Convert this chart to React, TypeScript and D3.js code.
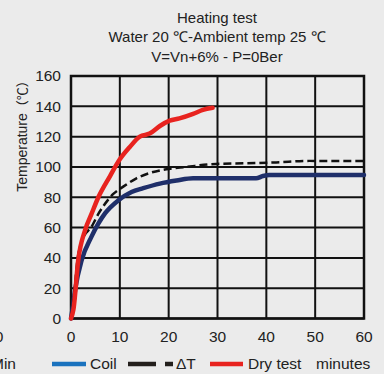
import React from "react";
import * as d3 from "d3";

const title = ["Heating test", "Water 20 ℃-Ambient temp 25 ℃", "V=Vn+6% - P=0Ber"];
const yTicks = [0, 20, 40, 60, 80, 100, 120, 140, 160];
const xTicks = [0, 10, 20, 30, 40, 50, 60];

const dryT = [0, 0.5, 1.5, 2.9, 4.2, 5.6, 8, 10, 12, 14.1, 16.1, 18.2, 20.2, 22.2, 25, 27, 29];
const dryV = [0, 6, 39, 58.5, 69, 80, 94, 105, 113, 120, 122, 127, 130.5, 132, 135, 137.6, 139];

const dtT = [0, 0.6, 1.3, 2.5, 4.2, 5.6, 6.6, 8.6, 10.7, 13.4, 16.1, 19.5, 23.6, 29.7, 35.9, 42, 48.8, 60];
const dtV = [0, 15, 38, 53, 60.5, 69, 74, 82, 87, 92.5, 96, 98.5, 100, 102, 102.4, 103, 104, 104];

const coilT = [0, 0.4, 0.9, 2.2, 4.2, 7, 9.7, 12.4, 14.8, 18.2, 21.6, 25, 29, 37.9, 39.3, 40.6, 60];
const coilV = [0, 8, 20, 38.6, 54, 69.5, 78, 83.5, 86, 89, 91, 92.5, 92.5, 92.5, 94, 94.7, 94.7];

export default function App() {
  const W = 384, H = 374;
  const x = d3.scaleLinear().domain([0, 60]).range([71, 364]);
  const y = d3.scaleLinear().domain([0, 160]).range([318.5, 76]);
  const line = d3.line<[number, number]>().x(d => x(d[0])).y(d => y(d[1])).curve(d3.curveMonotoneX);
  const mk = (t: number[], v: number[]) => t.map((tt, i) => [tt, v[i]] as [number, number]);
  const font = "'Liberation Sans', Arial, sans-serif";
  const cjk = "'Noto Sans CJK SC', sans-serif";
  return (
    <svg width={W} height={H} style={{ position: "absolute", left: 0, top: 0, background: "#ebebeb" }} fontFamily={font}>
      <rect width={W} height={H} fill="#ebebeb" />
      {title.map((t, i) => (
        <text key={i} x={217} y={22.5 + i * 19.5} textAnchor="middle" fontSize={15} fill="#222">{t}</text>
      ))}
      {yTicks.map(t => (
        <line key={"gy" + t} x1={x(0)} x2={x(60)} y1={y(t)} y2={y(t)} stroke="#111" strokeWidth={2} />
      ))}
      {xTicks.map(t => (
        <line key={"gx" + t} x1={x(t)} x2={x(t)} y1={y(0)} y2={y(160)} stroke="#111" strokeWidth={2} />
      ))}
      <rect x={x(0)} y={y(160)} width={x(60) - x(0)} height={y(0) - y(160)} fill="none" stroke="#111" strokeWidth={2.5} />
      {yTicks.map(t => (
        <text key={"ty" + t} x={61} y={y(t)} dy="0.35em" textAnchor="end" fontSize={15.5} fill="#222">{t}</text>
      ))}
      {xTicks.map(t => (
        <text key={"tx" + t} x={x(t)} y={337} dy="0.35em" textAnchor="middle" fontSize={15.5} fill="#222">{t}</text>
      ))}
      <text x={-1} y={337} dy="0.35em" textAnchor="middle" fontSize={15.5} fill="#222">0</text>
      <text x={16} y={364} dy="0.35em" textAnchor="end" fontSize={15.5} fill="#222">Min</text>
      <text transform="translate(22,133) rotate(-90)" textAnchor="middle" dy="0.35em" fontSize={14} fill="#222">
        Temperature<tspan fontFamily={cjk} fontSize={13}>（℃）</tspan>
      </text>
      <path d={line(mk(coilT, coilV)) || ""} fill="none" stroke="#1f2f6a" strokeWidth={4.5} strokeLinecap="round" />
      <path d={line(mk(dtT, dtV)) || ""} fill="none" stroke="#111" strokeWidth={2.5} strokeDasharray="8,4" />
      <path d={line(mk(dryT, dryV)) || ""} fill="none" stroke="#e8231f" strokeWidth={4.5} strokeLinecap="round" />
      <line x1={52} x2={86} y1={364} y2={364} stroke="#1a72be" strokeWidth={4.5} />
      <text x={90} y={364} dy="0.35em" fontSize={15.5} fill="#222">Coil</text>
      <line x1={128} x2={156} y1={364} y2={364} stroke="#231f1c" strokeWidth={4.5} />
      <line x1={165} x2={173} y1={364} y2={364} stroke="#231f1c" strokeWidth={4.5} />
      <text x={176} y={364} dy="0.35em" fontSize={15.5} fill="#222">ΔT</text>
      <line x1={210} x2={243} y1={364} y2={364} stroke="#e8231f" strokeWidth={4.5} />
      <text x={248} y={364} dy="0.35em" fontSize={15.5} fill="#222">Dry test</text>
      <text x={316} y={364} dy="0.35em" fontSize={15.5} fill="#222">minutes</text>
    </svg>
  );
}
